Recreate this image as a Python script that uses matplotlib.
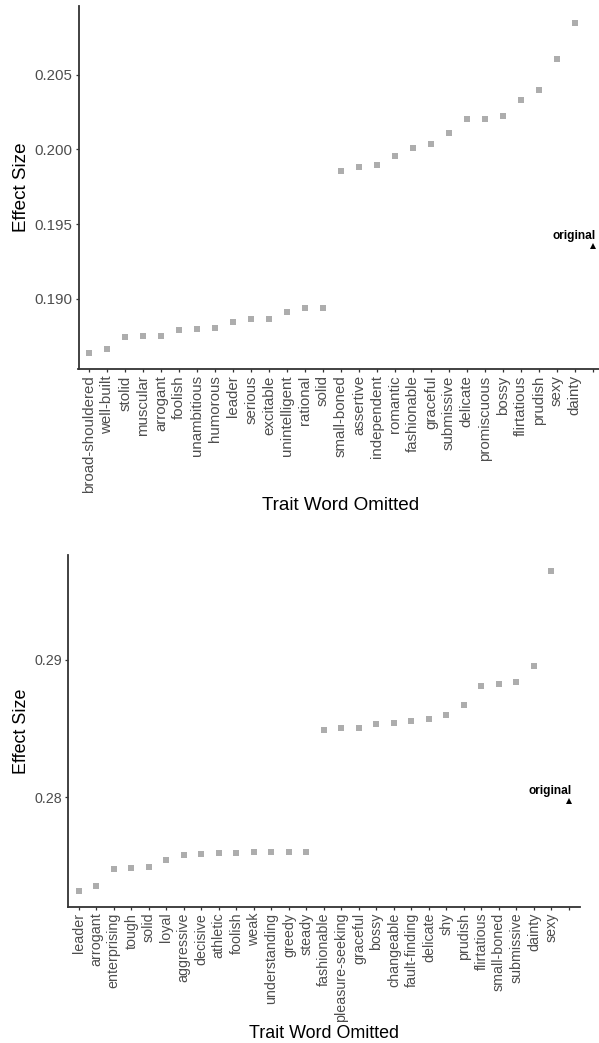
import matplotlib
matplotlib.use("Agg")
import matplotlib.pyplot as plt
import numpy as np

plt.rcParams['font.family'] = ['Liberation Sans', 'DejaVu Sans']

# ---- Top chart data ----
top_traits = ["broad-shouldered", "well-built", "stolid", "muscular", "arrogant", "foolish",
              "unambitious", "humorous", "leader", "serious", "excitable", "unintelligent",
              "rational", "solid", "small-boned", "assertive", "independent", "romantic",
              "fashionable", "graceful", "submissive", "delicate", "promiscuous", "bossy",
              "flirtatious", "prudish", "sexy", "dainty"]
top_values = [0.18640, 0.18666, 0.18747, 0.18753, 0.18755, 0.18791, 0.18800, 0.18807,
              0.18844, 0.18864, 0.18869, 0.18913, 0.18938, 0.18938, 0.19859, 0.19881,
              0.19895, 0.19953, 0.20013, 0.20039, 0.20108, 0.20202, 0.20206, 0.20222,
              0.20329, 0.20400, 0.20605, 0.20849]
top_original = 0.19352
top_yticks = [0.190, 0.195, 0.200, 0.205]

# ---- Bottom chart data ----
bot_traits = ["leader", "arrogant", "enterprising", "tough", "solid", "loyal", "aggressive",
              "decisive", "athletic", "foolish", "weak", "understanding", "greedy", "steady",
              "fashionable", "pleasure-seeking", "graceful", "bossy", "changeable",
              "fault-finding", "delicate", "shy", "prudish", "flirtatious", "small-boned",
              "submissive", "dainty", "sexy"]
bot_values = [0.27320, 0.27354, 0.27477, 0.27487, 0.27496, 0.27545, 0.27581, 0.27584,
              0.27596, 0.27596, 0.27598, 0.27600, 0.27600, 0.27600, 0.28487, 0.28501,
              0.28506, 0.28530, 0.28542, 0.28552, 0.28571, 0.28596, 0.28671, 0.28809,
              0.28826, 0.28838, 0.28956, 0.29644]
bot_original = 0.27973
bot_yticks = [0.28, 0.29]

W, H = 599, 1043
fig = plt.figure(figsize=(W / 100, H / 100), dpi=100)

def px_axes(left, right, top, bottom):
    return fig.add_axes([left / W, 1 - bottom / H, (right - left) / W, (bottom - top) / H])

def draw(ax, traits, values, original, yticks, fmt, ylab_x, xlab_y, tsize, lsize):
    labels = traits + ["original"]
    n = len(labels)
    x = np.arange(len(traits))
    ax.plot(x, values, linestyle='none', marker='s', markersize=4.0,
            color='#ADADAD', markeredgewidth=0)
    ax.plot([n - 1], [original], linestyle='none', marker='^', markersize=4.2,
            color='black', markeredgewidth=0)
    ax.annotate("original", xy=(n - 1, original), xytext=(1.8, 7.2),
                textcoords='offset points', ha='right', va='center',
                fontsize=8.6, fontweight='bold', color='black')
    allv = values + [original]
    lo, hi = min(allv), max(allv)
    pad = (hi - lo) * 0.05
    ax.set_ylim(lo - pad, hi + pad)
    ax.set_xlim(-0.6, n - 1 + 0.6)
    ax.set_xticks(np.arange(n))
    ax.set_xticklabels(traits + [""], rotation=90, ha='center', va='top')
    ax.set_yticks(yticks)
    ax.set_yticklabels([fmt % v for v in yticks])
    for s in ['top', 'right']:
        ax.spines[s].set_visible(False)
    for s in ['left', 'bottom']:
        ax.spines[s].set_color('#333333')
        ax.spines[s].set_linewidth(1.3)
    ax.tick_params(axis='both', length=2.3, width=0.9, color='#333333',
                   labelcolor='#4D4D4D', labelsize=tsize, pad=2.0)
    ax.set_ylabel("Effect Size", fontsize=lsize, color='black')
    ax.set_xlabel("Trait Word Omitted", fontsize=lsize, color='black')
    ax.yaxis.set_label_coords(ylab_x, 0.5)
    ax.yaxis.label.set_va('center')
    ax.xaxis.set_label_coords(0.5, xlab_y)
    ax.xaxis.label.set_va('center')

ax1 = px_axes(78.5, 603.5, 6, 369.3)
draw(ax1, top_traits, top_values, top_original, top_yticks, '%.3f',
     (22 - 78.5) / 525.0, (369.3 - 505.7) / 363.3, 10.8, 13.6)

ax2 = px_axes(68.3, 579.5, 555, 906.7)
draw(ax2, bot_traits, bot_values, bot_original, bot_yticks, '%.2f',
     (22 - 68.3) / 511.2, (906.7 - 1033) / 351.7, 10.3, 12.9)

fig.savefig("out.png", dpi=100)
